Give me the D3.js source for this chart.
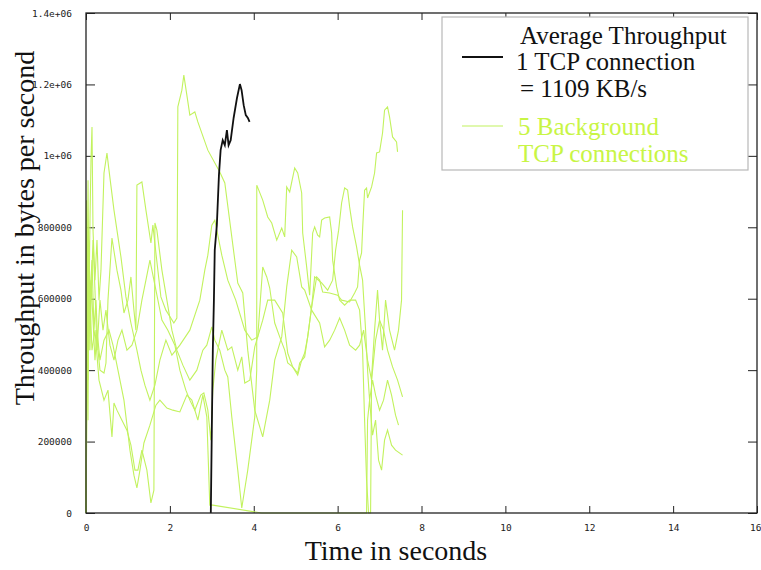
<!DOCTYPE html>
<html>
<head>
<meta charset="utf-8">
<script src="https://cdn.jsdelivr.net/npm/d3@7"></script>
<style>
  body { margin: 0; background: #fff; }
  svg { display: block; }
</style>
</head>
<body>
<div id="chart"></div>
<script>
// 吞吐量数据: [时间(秒), 吞吐量(千字节/秒, 绘图时 ×1000)]
const mainConn = [
  [2.976, 0], [3.0, 232], [3.024, 456], [3.05, 596], [3.07, 736], [3.12, 806],
  [3.17, 946], [3.21, 1016], [3.26, 1044], [3.31, 1030], [3.36, 1072], [3.40, 1030],
  [3.45, 1044], [3.52, 1106], [3.60, 1162], [3.67, 1201], [3.71, 1184], [3.76, 1142],
  [3.81, 1114], [3.86, 1106], [3.90, 1095]
];

const bg1 = [
  [0, 0], [0.024, 512], [0.048, 932], [0.071, 596], [0.095, 820], [0.119, 988], [0.143, 1081],
  [0.167, 792], [0.214, 652], [0.262, 764], [0.31, 596], [0.357, 680], [0.429, 952], [0.5, 1008],
  [0.548, 960], [0.667, 848], [0.833, 717], [0.952, 605], [1.071, 532], [1.214, 456], [1.31, 400],
  [1.405, 358], [1.524, 316], [1.643, 358], [1.762, 428], [1.905, 484], [2.048, 442], [2.238, 470],
  [2.476, 512], [2.714, 596], [2.833, 680], [2.905, 722], [3.0, 806], [3.071, 820], [3.119, 792],
  [3.238, 722], [3.381, 652], [3.571, 596], [3.786, 512], [3.952, 484], [4.095, 493], [4.214, 689],
  [4.31, 661], [4.381, 630], [4.5, 532], [4.619, 493], [4.738, 456], [4.81, 420], [4.929, 409],
  [5.048, 392], [5.095, 420], [5.214, 437], [5.286, 493], [5.381, 577], [5.5, 661], [5.571, 652],
  [5.643, 619], [5.81, 616], [6.0, 610], [6.095, 596], [6.286, 591], [6.405, 616], [6.476, 633],
  [6.524, 708], [6.571, 728], [6.595, 792], [6.643, 904], [6.69, 910], [6.714, 882], [6.81, 913],
  [6.881, 952], [6.929, 1008], [7.0, 1011], [7.071, 1064], [7.119, 1128], [7.19, 1137],
  [7.238, 1109], [7.31, 1053], [7.405, 1039], [7.429, 1011]
];

const bg2 = [
  [0, 0], [0.024, 708], [0.048, 456], [0.071, 764], [0.095, 596], [0.143, 708], [0.19, 512],
  [0.238, 596], [0.286, 456], [0.333, 400], [0.429, 392], [0.476, 420], [0.524, 596], [0.619, 770],
  [0.738, 680], [0.833, 624], [0.905, 560], [1.0, 596], [1.071, 661], [1.143, 568], [1.19, 512],
  [1.214, 918], [1.333, 927], [1.429, 848], [1.548, 756], [1.595, 806], [1.667, 728], [1.786, 605],
  [1.905, 568], [2.095, 532], [2.167, 546], [2.19, 1137], [2.286, 1184], [2.333, 1226],
  [2.405, 1170], [2.476, 1114], [2.595, 1123], [2.667, 1095], [2.905, 1016], [3.19, 955],
  [3.31, 924], [3.619, 644], [3.738, 616], [3.857, 456], [4.024, 288], [4.214, 213], [4.381, 316],
  [4.5, 428], [4.667, 493], [4.786, 633], [4.905, 736], [5.024, 717], [5.143, 633], [5.214, 624],
  [5.381, 568], [5.571, 532], [5.69, 465], [5.81, 484], [5.929, 512], [6.048, 546], [6.167, 512],
  [6.286, 470], [6.429, 456], [6.524, 470], [6.619, 512], [6.714, 428], [6.81, 372], [6.905, 484],
  [7.0, 540], [7.095, 512], [7.19, 456], [7.31, 409], [7.429, 372], [7.548, 325]
];

const bg3 = [
  [0, 0], [0.024, 316], [0.048, 652], [0.071, 456], [0.095, 596], [0.143, 456], [0.214, 512],
  [0.31, 372], [0.429, 316], [0.524, 344], [0.619, 213], [0.667, 308], [0.738, 288], [0.857, 260],
  [0.976, 232], [1.071, 190], [1.167, 120], [1.238, 120], [1.333, 176], [1.452, 120], [1.548, 28],
  [1.619, 64], [1.643, 812], [1.69, 792], [1.81, 680], [1.929, 596], [2.048, 512], [2.167, 456],
  [2.31, 414], [2.476, 372], [2.643, 400], [2.786, 456], [2.881, 470], [3.0, 521], [3.071, 484],
  [3.19, 456], [3.31, 400], [3.381, 381], [3.476, 269], [3.619, 120], [3.714, 14], [3.857, 120],
  [4.024, 269], [4.071, 400], [4.072, 918], [4.214, 876], [4.333, 829], [4.429, 812], [4.548, 764],
  [4.667, 798], [4.738, 773], [4.786, 913], [4.857, 899], [4.976, 966], [5.048, 952], [5.143, 896],
  [5.167, 784], [5.262, 689], [5.333, 610], [5.405, 784], [5.452, 801], [5.524, 778], [5.571, 773],
  [5.619, 820], [5.69, 826], [5.81, 829], [5.857, 784], [5.881, 708], [5.976, 633], [6.048, 596],
  [6.167, 582], [6.286, 596], [6.429, 596], [6.524, 568], [6.595, 456], [6.643, 260], [6.69, 92],
  [6.738, 0], [6.786, 0], [6.81, 381], [6.881, 512], [6.952, 624], [7.0, 540], [7.071, 456],
  [7.143, 596], [7.238, 512], [7.357, 456], [7.452, 512], [7.524, 596], [7.548, 848]
];

const bg4 = [
  [0, 0], [0.024, 596], [0.048, 260], [0.071, 736], [0.095, 512], [0.119, 652], [0.167, 540],
  [0.214, 428], [0.262, 512], [0.333, 428], [0.429, 484], [0.548, 512], [0.643, 470], [0.762, 400],
  [0.905, 316], [1.048, 176], [1.143, 106], [1.214, 70], [1.286, 120], [1.381, 196], [1.524, 246],
  [1.667, 302], [1.762, 316], [1.929, 294], [2.071, 288], [2.238, 283], [2.405, 330], [2.524, 316],
  [2.667, 260], [2.786, 330], [2.881, 269], [2.952, 22], [3.024, 22], [4.19, 0], [6.69, 0],
  [6.714, 260], [6.762, 316], [6.833, 218], [6.905, 260], [6.976, 148], [7.048, 120], [7.119, 204],
  [7.19, 232], [7.286, 190], [7.381, 176], [7.548, 162]
];

const bg5 = [
  [0, 0], [0.012, 876], [0.024, 764], [0.048, 372], [0.071, 708], [0.095, 456], [0.119, 596],
  [0.167, 764], [0.214, 624], [0.262, 456], [0.333, 596], [0.405, 512], [0.476, 568], [0.571, 470],
  [0.667, 428], [0.762, 484], [0.857, 512], [0.976, 456], [1.095, 470], [1.214, 512], [1.333, 596],
  [1.429, 652], [1.524, 708], [1.667, 624], [1.81, 540], [1.952, 512], [2.119, 470], [2.238, 400],
  [2.381, 344], [2.476, 316], [2.595, 288], [2.738, 330], [2.81, 336], [2.905, 288], [2.976, 204],
  [3.024, 344], [3.095, 428], [3.238, 512], [3.381, 456], [3.476, 465], [3.619, 400], [3.714, 437],
  [3.786, 364], [3.905, 372], [4.024, 465], [4.095, 493], [4.214, 540], [4.333, 596], [4.5, 596],
  [4.69, 560], [4.81, 448], [4.929, 409], [5.048, 386], [5.143, 428], [5.214, 448], [5.286, 493],
  [5.381, 577], [5.452, 661], [5.619, 644], [5.762, 624], [5.881, 652], [5.952, 736], [6.024, 792],
  [6.095, 868], [6.167, 910], [6.238, 904], [6.286, 857], [6.357, 801], [6.452, 745], [6.524, 694],
  [6.595, 652], [6.667, 512], [6.714, 400], [6.762, 316], [6.833, 372], [6.905, 330], [7.0, 288],
  [7.095, 316], [7.19, 372], [7.286, 330], [7.381, 274], [7.452, 246]
];

const backgroundSeries = [bg1, bg2, bg3, bg4, bg5];

const xTicks = [0, 2, 4, 6, 8, 10, 12, 14, 16];
const yTicks = [0, 200000, 400000, 600000, 800000, 1000000, 1200000, 1400000];
const yTickLabels = ['0', '200000', '400000', '600000', '800000', '1e+06', '1.2e+06', '1.4e+06'];

const legendLines = ['Average Throughput', '1 TCP connection', '= 1109 KB/s'];
const legendBgLines = ['5 Background', 'TCP connections'];

// 画布
const width = 761, height = 570;
const margin = { left: 86, right: 4, top: 13, bottom: 57 };
const green = '#c2f25e';

const svg = d3.select('#chart').append('svg')
  .attr('width', width)
  .attr('height', height);

const x = d3.scaleLinear().domain([0, 16]).range([margin.left, width - margin.right]);
const y = d3.scaleLinear().domain([0, 1400000]).range([height - margin.bottom, margin.top]);

const tickFont = '"DejaVu Sans Mono", monospace';
const serif = '"Liberation Serif", "Times New Roman", serif';

// 坐标轴 (刻度朝内, 四边都有)
const axisBottom = d3.axisBottom(x).tickValues(xTicks).tickSize(-7).tickPadding(11).tickFormat(d3.format('d'));
const axisTop = d3.axisTop(x).tickValues(xTicks).tickSize(-7).tickFormat('');
const axisLeft = d3.axisLeft(y).tickValues(yTicks).tickSize(-9).tickPadding(14)
  .tickFormat((d, i) => yTickLabels[i]);
const axisRight = d3.axisRight(y).tickValues(yTicks).tickSize(-9).tickFormat('');

function styleAxis(g) {
  g.select('.domain').remove();
  g.selectAll('.tick line').attr('stroke', '#222');
  g.selectAll('.tick text')
    .attr('font-family', tickFont)
    .attr('font-size', 9.5)
    .attr('fill', '#222');
}

const gx = svg.append('g').attr('transform', `translate(0,${y(0)})`).call(axisBottom).call(styleAxis);
// 最右边的 "16" 贴着画布边缘, 稍微左移以免被截断
gx.selectAll('.tick text').filter(d => d === 16).attr('text-anchor', 'end').attr('dx', 4);
svg.append('g').attr('transform', `translate(0,${y(1400000)})`).call(axisTop).call(styleAxis);
svg.append('g').attr('transform', `translate(${x(0)},0)`).call(axisLeft).call(styleAxis);
svg.append('g').attr('transform', `translate(${x(16)},0)`).call(axisRight).call(styleAxis);

// 曲线
const line = d3.line()
  .x(d => x(d[0]))
  .y(d => y(d[1] * 1000));

svg.append('g')
  .selectAll('path')
  .data(backgroundSeries)
  .enter().append('path')
  .attr('d', line)
  .attr('fill', 'none')
  .attr('stroke', green)
  .attr('stroke-width', 1.1);

svg.append('path')
  .datum(mainConn)
  .attr('d', line)
  .attr('fill', 'none')
  .attr('stroke', '#111')
  .attr('stroke-width', 1.8);

// 边框
svg.append('rect')
  .attr('x', x(0)).attr('y', y(1400000))
  .attr('width', x(16) - x(0)).attr('height', y(0) - y(1400000))
  .attr('fill', 'none')
  .attr('stroke', '#222')
  .attr('stroke-width', 1.3);

// 图例
const legend = svg.append('g');
legend.append('rect')
  .attr('x', 442).attr('y', 17)
  .attr('width', 306).attr('height', 153)
  .attr('fill', '#fff')
  .attr('stroke', '#b8b8b8')
  .attr('stroke-width', 1.2);

legend.append('line')
  .attr('x1', 462).attr('x2', 503).attr('y1', 57).attr('y2', 57)
  .attr('stroke', '#111').attr('stroke-width', 1.8);
legend.append('line')
  .attr('x1', 462).attr('x2', 503).attr('y1', 126).attr('y2', 126)
  .attr('stroke', green).attr('stroke-width', 1.2);

const legendPos = [[520, 44], [516, 70], [520, 97]];
legend.selectAll('text.main')
  .data(legendLines)
  .enter().append('text')
  .attr('class', 'main')
  .attr('x', (d, i) => legendPos[i][0])
  .attr('y', (d, i) => legendPos[i][1])
  .attr('font-family', serif)
  .attr('font-size', 25)
  .attr('fill', '#111')
  .text(d => d);

legend.selectAll('text.bg')
  .data(legendBgLines)
  .enter().append('text')
  .attr('class', 'bg')
  .attr('x', 518)
  .attr('y', (d, i) => 135 + i * 27)
  .attr('font-family', serif)
  .attr('font-size', 25)
  .attr('fill', '#c8f545')
  .text(d => d);

// 轴标题
svg.append('text')
  .attr('x', 396).attr('y', 560)
  .attr('text-anchor', 'middle')
  .attr('font-family', serif)
  .attr('font-size', 28)
  .attr('fill', '#111')
  .text('Time in seconds');

svg.append('text')
  .attr('transform', 'translate(34,228) rotate(-90)')
  .attr('text-anchor', 'middle')
  .attr('font-family', serif)
  .attr('font-size', 28)
  .attr('fill', '#111')
  .text('Throughput in bytes per second');
</script>
</body>
</html>
